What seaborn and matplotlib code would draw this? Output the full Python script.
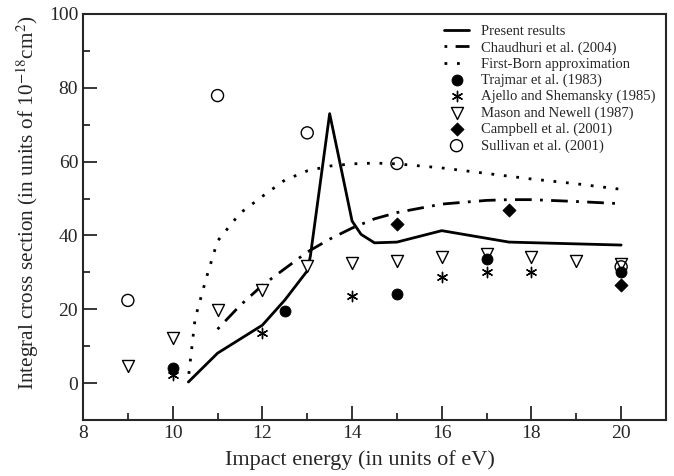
import numpy as np
import pandas as pd
import matplotlib
matplotlib.use("Agg")
import matplotlib.pyplot as plt
from matplotlib.ticker import MultipleLocator
import seaborn as sns

# Theoretical curves
present_x = [10.35, 11.0, 12.0, 12.5, 13.0, 13.07, 13.5, 13.7, 14.0, 14.2, 14.5, 15.0, 16.0, 17.5, 20.0]
present_y = [0.3, 8.1, 15.7, 22.5, 30.4, 34.4, 73.0, 61.4, 43.9, 40.3, 38.0, 38.2, 41.3, 38.2, 37.4]

chaud_x = [11.0, 11.5, 12.0, 12.5, 13.0, 13.5, 14.0, 14.5, 15.0, 16.0, 17.0, 17.5, 18.0, 19.0, 20.0]
chaud_y = [14.6, 21.0, 26.5, 31.0, 35.5, 39.0, 42.0, 44.5, 46.2, 48.5, 49.5, 49.7, 49.7, 49.2, 48.6]

born_x = [10.36, 10.5, 10.75, 11.0, 11.5, 12.0, 12.5, 13.0, 13.5, 14.0, 14.5, 15.0, 16.0, 17.0, 18.0, 19.0, 20.0]
born_y = [2.5, 17.5, 28.5, 38.5, 46.0, 50.6, 55.0, 57.5, 58.8, 59.4, 59.6, 59.4, 58.3, 56.8, 55.3, 54.0, 52.5]

# Experimental data
trajmar_x = [10, 12.5, 15, 17, 20]
trajmar_y = [4.0, 19.5, 24.1, 33.5, 30.0]

ajello_x = [10, 12, 14, 16, 17, 18]
ajello_y = [2.3, 13.5, 23.5, 28.7, 30.0, 30.2]

mason_x = [9, 10, 11, 12, 13, 14, 15, 16, 17, 18, 19, 20]
mason_y = [4.5, 12.3, 19.7, 25.1, 31.7, 32.5, 33.1, 34.2, 34.9, 34.2, 33.0, 32.2]

campbell_x = [15, 17.5, 20]
campbell_y = [43.2, 46.8, 26.5]

sullivan_x = [9, 11, 13, 15, 20]
sullivan_y = [22.4, 77.9, 67.8, 59.5, 31.5]

sns.set_style("ticks")
plt.rcParams["font.family"] = ["Liberation Serif", "DejaVu Serif"]
plt.rcParams["mathtext.fontset"] = "stix"

fig = plt.figure(figsize=(6.74, 4.76), dpi=100)
ax = fig.add_axes([83 / 674, 56 / 476, 583 / 674, 406 / 476])

sns.lineplot(x=present_x, y=present_y, ax=ax, color="black", lw=2.0,
             sort=False, estimator=None, label="Present results")
sns.lineplot(x=chaud_x, y=chaud_y, ax=ax, color="black", lw=2.0,
             sort=False, estimator=None, label="Chaudhuri et al. (2004)",
             linestyle=(0, (1, 3, 6, 3)))
sns.lineplot(x=born_x, y=born_y, ax=ax, color="black", lw=2.0,
             sort=False, estimator=None, label="First-Born approximation",
             linestyle=(0, (1, 3.5)))

sns.scatterplot(x=trajmar_x, y=trajmar_y, ax=ax, marker="o", s=62,
                color="black", edgecolor="black", label="Trajmar et al. (1983)", zorder=4)
sns.scatterplot(x=ajello_x, y=ajello_y, ax=ax, marker=(6, 2, 0), s=55,
                color="black", linewidth=1.0, label="Ajello and Shemansky (1985)", zorder=4)
sns.scatterplot(x=mason_x, y=mason_y, ax=ax, marker="v", s=75,
                facecolor="white", edgecolor="black", linewidth=1.0,
                label="Mason and Newell (1987)", zorder=3)
sns.scatterplot(x=campbell_x, y=campbell_y, ax=ax, marker="D", s=45,
                color="black", edgecolor="black", label="Campbell et al. (2001)", zorder=4)
sns.scatterplot(x=sullivan_x, y=sullivan_y, ax=ax, marker="o", s=75,
                facecolor="none", edgecolor="black", linewidth=1.0,
                label="Sullivan et al. (2001)", zorder=3)

ax.set_xlim(8, 21)
ax.set_ylim(-10, 100)
ax.xaxis.set_major_locator(MultipleLocator(2))
ax.xaxis.set_minor_locator(MultipleLocator(1))
ax.yaxis.set_major_locator(MultipleLocator(20))
ax.yaxis.set_minor_locator(MultipleLocator(10))
ax.tick_params(which="both", direction="in", top=False, right=False, labelsize=14, width=1.3)
ax.tick_params(which="major", length=10)
ax.tick_params(which="minor", length=5)
for sp in ax.spines.values():
    sp.set_linewidth(1.5)
    sp.set_visible(True)

ax.set_xlabel("Impact energy (in units of eV)", fontsize=16, labelpad=2)
ax.xaxis.set_label_coords(0.475, -0.075)
ax.set_ylabel(r"Integral cross section (in units of 10$^{-18}$cm$^{2}$)", fontsize=15.3)
ax.yaxis.set_label_coords(-0.072, 0.535)

ax.legend(loc="upper right", bbox_to_anchor=(1.0, 1.0), frameon=False, fontsize=10.5,
          handlelength=1.7, handletextpad=0.8, labelspacing=0.2, borderaxespad=0.35,
          markerscale=1.0)

fig.savefig("out.png", dpi=100)
